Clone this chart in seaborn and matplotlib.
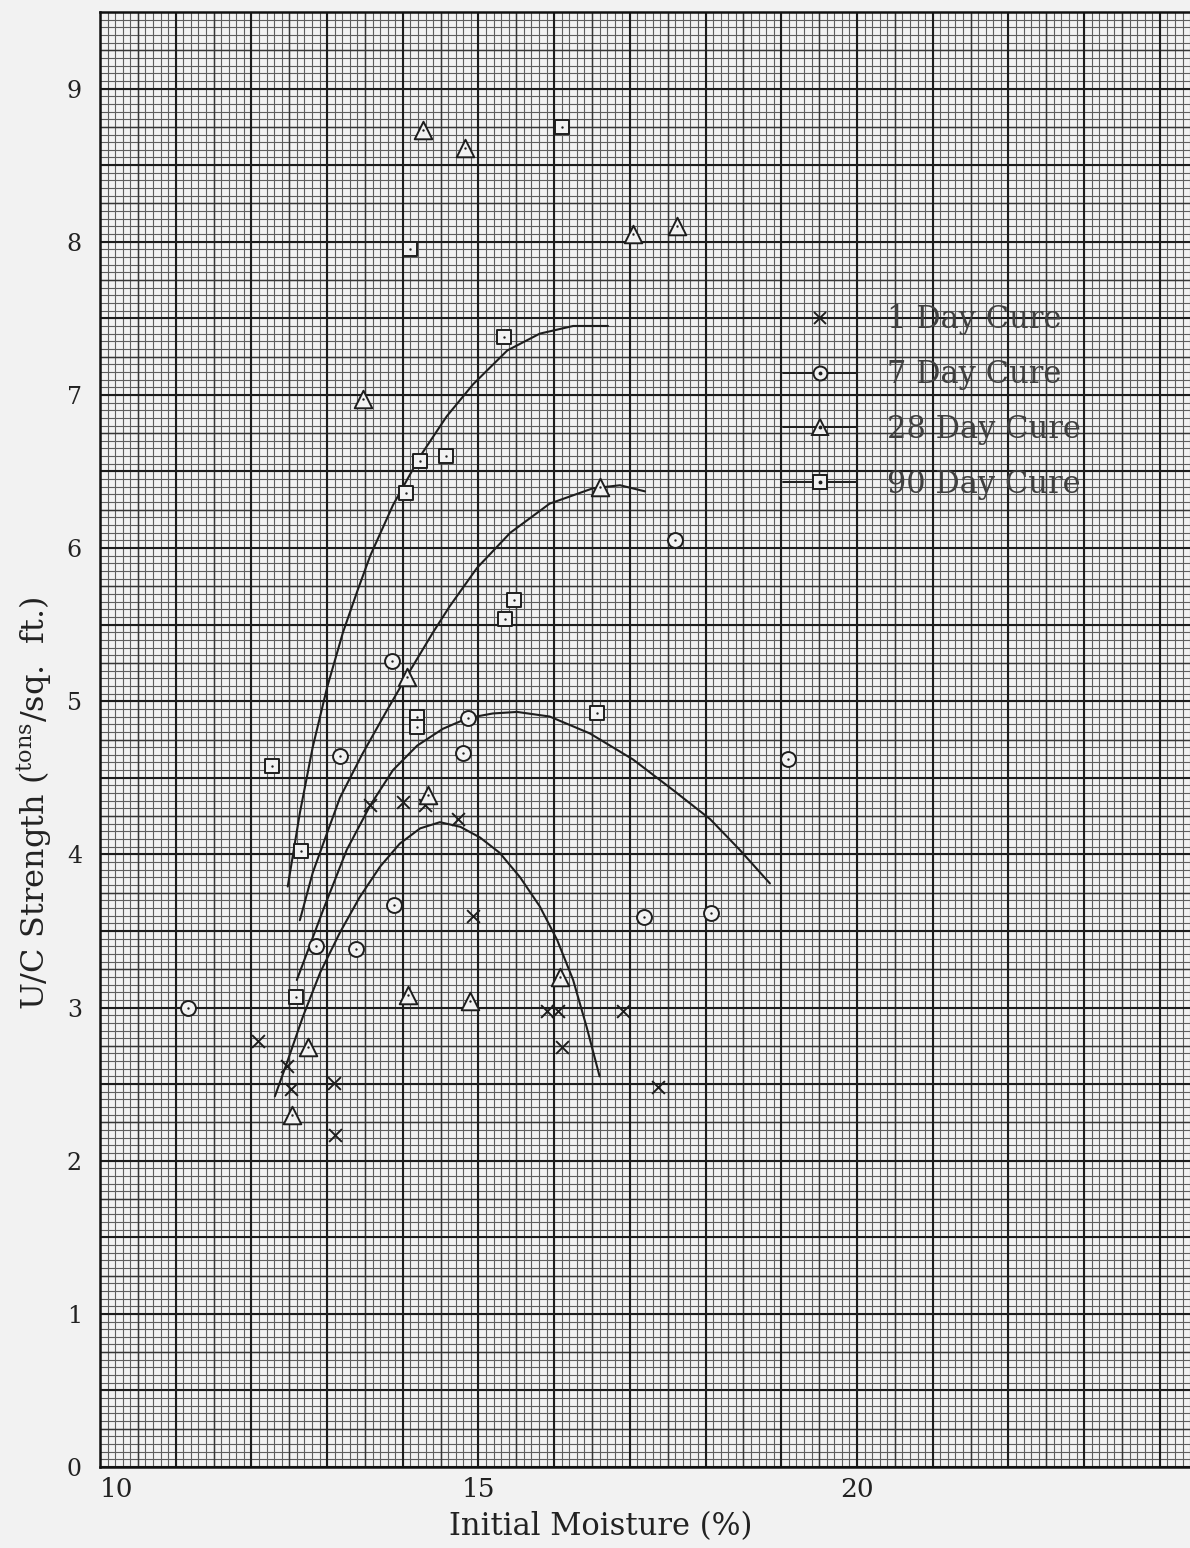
import numpy as np
import matplotlib
matplotlib.use("Agg")
import matplotlib.pyplot as plt
import seaborn as sns
from matplotlib.lines import Line2D
from matplotlib.legend_handler import HandlerTuple

# ---- measured points (initial moisture %, U/C strength tons/sq. ft.) ----
one_day_moisture = [12.09, 12.47, 12.52, 13.09, 13.10, 13.57, 14.00, 14.29,
                    14.73, 14.93, 15.90, 16.05, 16.10, 16.91, 17.37]
one_day_strength = [2.78, 2.62, 2.47, 2.51, 2.17, 4.32, 4.34, 4.32,
                    4.23, 3.60, 2.98, 2.98, 2.74, 2.98, 2.48]

seven_day_moisture = [11.16, 12.85, 13.17, 13.38, 13.86, 13.88, 14.86, 14.80,
                      17.19, 17.60, 18.07, 19.09]
seven_day_strength = [3.00, 3.40, 4.64, 3.38, 5.26, 3.67, 4.89, 4.66,
                      3.59, 6.05, 3.62, 4.62]

twenty_eight_day_moisture = [14.27, 14.82, 17.04, 17.62, 13.47, 16.60, 14.06,
                             14.33, 14.07, 14.89, 16.08, 12.75, 12.54]
twenty_eight_day_strength = [8.73, 8.61, 8.05, 8.10, 6.97, 6.40, 5.16,
                             4.39, 3.08, 3.04, 3.20, 2.74, 2.30]

ninety_day_moisture = [16.10, 14.10, 15.34, 14.23, 14.57, 14.04, 15.47, 15.35,
                       14.19, 14.19, 16.57, 12.27, 12.66, 12.59]
ninety_day_strength = [8.75, 7.95, 7.38, 6.57, 6.60, 6.36, 5.66, 5.54,
                       4.90, 4.83, 4.92, 4.58, 4.02, 3.07]

# ---- hand-faired trend curves ----
one_day_curve_x = [12.31, 12.47, 12.68, 12.91, 13.17, 13.43, 13.70, 13.96, 14.23,
                   14.49, 14.76, 15.02, 15.28, 15.55, 15.81, 16.04, 16.25, 16.43, 16.60]
one_day_curve_y = [2.42, 2.64, 2.94, 3.23, 3.49, 3.72, 3.92, 4.07, 4.17,
                   4.21, 4.18, 4.11, 4.01, 3.85, 3.66, 3.44, 3.18, 2.87, 2.55]

seven_day_curve_x = [12.60, 12.95, 13.26, 13.57, 13.87, 14.19, 14.53, 14.86, 15.19,
                     15.51, 15.94, 16.47, 17.04, 17.57, 18.06, 18.45, 18.85]
seven_day_curve_y = [3.18, 3.64, 4.03, 4.32, 4.55, 4.71, 4.82, 4.89, 4.92,
                     4.93, 4.90, 4.79, 4.62, 4.42, 4.23, 4.03, 3.81]

twenty_eight_day_curve_x = [12.64, 12.81, 13.00, 13.17, 13.46, 13.79, 14.06, 14.40,
                            14.62, 14.98, 15.42, 15.94, 16.51, 16.87, 17.20]
twenty_eight_day_curve_y = [3.57, 3.88, 4.14, 4.37, 4.65, 4.94, 5.17, 5.45,
                            5.62, 5.87, 6.10, 6.29, 6.39, 6.41, 6.37]

ninety_day_curve_x = [12.48, 12.64, 12.81, 13.00, 13.21, 13.40, 13.57, 13.87, 14.23,
                      14.58, 14.93, 15.38, 15.81, 16.25, 16.71]
ninety_day_curve_y = [3.79, 4.27, 4.70, 5.09, 5.45, 5.72, 5.95, 6.28, 6.60,
                      6.86, 7.07, 7.29, 7.40, 7.45, 7.45]

series_labels = ["1 Day Cure", "7 Day Cure", "28 Day Cure", "90 Day Cure"]
x_tick_values = [10, 15, 20]
y_tick_values = [0, 1, 2, 3, 4, 5, 6, 7, 8, 9]

# ---- styling ----
sns.set_theme(style="white")
plt.rcParams["font.family"] = ["DejaVu Serif", "DejaVu Sans"]
plt.rcParams["mathtext.fontset"] = "dejavuserif"

INK = "#1e1e1e"
PAPER = "#f2f2f2"

fig = plt.figure(figsize=(11.9, 15.48), dpi=100, facecolor=PAPER)
ax = fig.add_axes([100 / 1190, 81 / 1548, 1090 / 1190, 1455 / 1548])
ax.set_facecolor(PAPER)
X_MIN, X_MAX = 10, 10 + 1090 / 75.7
Y_MIN, Y_MAX = 0, 9.5
ax.set_xlim(X_MIN, X_MAX)
ax.set_ylim(Y_MIN, Y_MAX)

# graph-paper ruling: fine, medium and heavy lines
fine_x = np.arange(X_MIN, X_MAX + 0.01, 0.1)
fine_y = np.arange(Y_MIN, Y_MAX + 0.01, 0.05)
ax.vlines(fine_x, Y_MIN, Y_MAX, colors="#5e5e5e", linewidth=0.8, zorder=0)
ax.hlines(fine_y, X_MIN, X_MAX, colors="#5e5e5e", linewidth=0.8, zorder=0)
ax.vlines(np.arange(X_MIN + 0.5, X_MAX, 1.0), Y_MIN, Y_MAX,
          colors="#363636", linewidth=1.05, zorder=0.5)
ax.hlines(np.arange(Y_MIN + 0.25, Y_MAX, 0.5), X_MIN, X_MAX,
          colors="#363636", linewidth=1.05, zorder=0.5)
ax.vlines(np.arange(X_MIN, X_MAX, 1.0), Y_MIN, Y_MAX,
          colors="#1c1c1c", linewidth=1.5, zorder=0.6)
ax.hlines(np.arange(Y_MIN, Y_MAX, 0.5), X_MIN, X_MAX,
          colors="#1c1c1c", linewidth=1.5, zorder=0.6)

# trend curves
for cx, cy in [(one_day_curve_x, one_day_curve_y),
               (seven_day_curve_x, seven_day_curve_y),
               (twenty_eight_day_curve_x, twenty_eight_day_curve_y),
               (ninety_day_curve_x, ninety_day_curve_y)]:
    sns.lineplot(x=cx, y=cy, sort=False, estimator=None, color=INK,
                 linewidth=1.5, ax=ax, zorder=3)

# data points: hollow symbols, most with a centre dot
MEW = 1.4
sns.scatterplot(x=one_day_moisture, y=one_day_strength, marker="x", s=85,
                color=INK, linewidth=MEW, ax=ax, zorder=4)
symbol_sets = [
    (seven_day_moisture, seven_day_strength, "o", 115),
    (twenty_eight_day_moisture, twenty_eight_day_strength, "^", 160),
    (ninety_day_moisture, ninety_day_strength, "s", 100),
]
for mx, my, mk, sz in symbol_sets:
    sns.scatterplot(x=mx, y=my, marker=mk, s=sz, facecolor=PAPER,
                    edgecolor=INK, linewidth=MEW, ax=ax, zorder=4)
    sns.scatterplot(x=mx, y=my, marker="o", s=3, color=INK,
                    linewidth=0, ax=ax, zorder=5)

# legend keys: short rule with the symbol on it
def key(marker, size, dotted):
    line = Line2D([], [], color=INK, linewidth=1.4, marker=marker,
                  markersize=size, markerfacecolor=PAPER,
                  markeredgecolor=INK, markeredgewidth=MEW)
    if not dotted:
        return line
    dot = Line2D([], [], linestyle="none", marker="o", markersize=1.8,
                 color=INK)
    return (line, dot)

handles = [key("x", 9, False), key("o", 10, True),
           key("^", 11.5, True), key("s", 9.5, True)]
leg = ax.legend(handles, series_labels, loc="upper left",
                bbox_to_anchor=(0.6266, 0.799), frameon=False,
                fontsize=22, handlelength=2.42, handletextpad=1.0,
                labelspacing=0.78, borderpad=0, borderaxespad=0,
                handler_map={tuple: HandlerTuple(ndivide=1)})
for t in leg.get_texts():
    t.set_color("#404040")

# axes frame
for side in ["left", "bottom", "top"]:
    ax.spines[side].set_visible(True)
    ax.spines[side].set_color("#111111")
    ax.spines[side].set_linewidth(1.8)
ax.spines["right"].set_visible(False)

ax.set_xticks(x_tick_values)
ax.set_yticks(y_tick_values)
ax.set_xticklabels([str(v) for v in x_tick_values])
ax.set_yticklabels([str(v) for v in y_tick_values])
ax.tick_params(axis="both", length=0, labelcolor="#222222")
ax.tick_params(axis="x", pad=7, labelsize=19)
ax.tick_params(axis="y", pad=13, labelsize=17)
ax.get_xticklabels()[0].set_horizontalalignment("left")

ax.set_xlabel("Initial Moisture (%)", fontsize=22, color="#222222")
ax.xaxis.set_label_coords(0.459, -0.030)
ax.set_ylabel(r"U/C Strength ($^{\mathrm{tons}}$/sq.  ft.)", fontsize=23,
              color="#222222")
ax.yaxis.set_label_coords(-0.042, 0.456)

fig.savefig("out.png", dpi=100, facecolor=PAPER)
